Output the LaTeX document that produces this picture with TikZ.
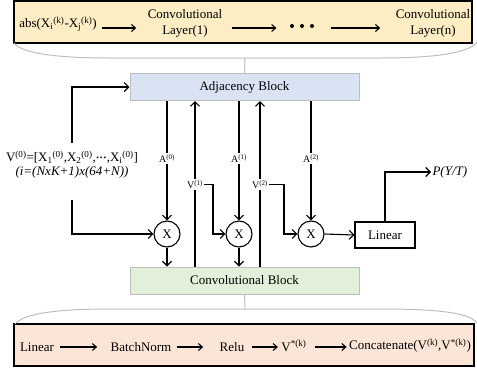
\documentclass[tikz,border=0pt]{standalone}
\usepackage{fontspec}
\setmainfont{Liberation Serif}
\usetikzlibrary{arrows.meta}
\definecolor{topfill}{RGB}{252,237,196}
\definecolor{botfill}{RGB}{251,229,214}
\definecolor{adjfill}{RGB}{218,227,243}
\definecolor{convfill}{RGB}{226,240,217}
\definecolor{frame}{RGB}{190,190,190}
\begin{document}
\begin{tikzpicture}[x=1pt,y=-1pt,
  font=\fontsize{13}{16}\selectfont,
  line width=1.1pt,
  arr/.style={-{Straight Barb[length=4.5pt,width=9pt]}},
  tarr/.style={-{Straight Barb[length=4pt,width=7pt]}},
  panel/.style={draw=black,line width=1.1pt},
  block/.style={draw=frame,line width=1pt,minimum width=229pt,minimum height=27pt,inner sep=0pt},
  txt/.style={inner sep=0pt,align=center},
  lab/.style={fill=white,inner sep=1pt,font=\fontsize{10}{12}\selectfont},
  mult/.style={draw,circle,minimum size=26pt,inner sep=0pt},
  soft/.style={draw=frame,line width=1pt}]
\useasboundingbox (0,0) rectangle (477,370);

% upper panel: the adjacency pipeline
\draw[panel,fill=topfill] (14,1) rectangle (472,43);
\node[txt] (absn) at (58,24) {abs(X\textsubscript{i}\textsuperscript{(k)}-X\textsubscript{j}\textsuperscript{(k)})};
\node[txt] (cl1) at (185,23) {Convolutional\\Layer(1)};
\node[txt] (cln) at (433,23) {Convolutional\\Layer(n)};
\coordinate (a1s) at (0,28);
% three heavy dots between the layers
\node[inner sep=0pt,minimum width=24pt,minimum height=6pt] (dots) at (302,26) {};
\foreach \dx in {-10,0,10} \fill ([xshift=\dx pt]dots.center) circle (2pt);
\draw[tarr,shorten <=5pt,shorten >=11pt] (absn.east |- a1s) -- (cl1.west |- a1s);
\draw[tarr,shorten <=9pt,shorten >=13pt] (cl1.east |- a1s) -- (dots.west |- a1s);
\draw[tarr,shorten <=16pt,shorten >=15pt] (dots.east |- a1s) -- (cln.west |- a1s);

% lower panel: the convolutional pipeline
\draw[panel,fill=botfill] (14,324) rectangle (474,366);
\node[txt] (lin2) at (37,347) {Linear};
\node[txt] (bn) at (141,347) {BatchNorm};
\node[txt] (relu) at (232,347) {Relu};
\node[txt] (vstar) at (294,346) {V\textsuperscript{*(k)}};
\node[txt] (concat) at (410,346) {Concatenate(V\textsuperscript{(k)},V\textsuperscript{*(k)})};
\draw[tarr,shorten <=5pt,shorten >=13pt] (lin2.east) -- (bn.west);
\draw[tarr,shorten <=5pt,shorten >=16pt] (bn.east) -- (relu.west);
\draw[tarr,shorten <=7pt,shorten >=3pt] (relu.east) -- (vstar.west |- relu.east);
\draw[tarr,shorten <=8pt,shorten >=2pt] (vstar.east |- relu.east) -- (concat.west |- relu.east);

% main blocks
\node[block,fill=adjfill] (adj) at (244.5,87) {Adjacency Block};
\node[block,fill=convfill] (conv) at (244.5,280.5) {Convolutional Block};

% brackets tying the panels to the blocks
\coordinate (tmid) at (245,58);
\coordinate (bmid) at (245,309);
\draw[soft] (14,43) .. controls (22,54) and (60,58) .. (110,58) -- (380,58) .. controls (440,58) and (470,52) .. (477,42);
\draw[soft] (tmid) -- (adj.north);
\draw[soft] (15,324) .. controls (24,313) and (60,309) .. (110,309) -- (380,309) .. controls (440,309) and (470,313) .. (477,323);
\draw[soft] (conv.south) -- (bmid);

% input features
\node[txt] (inp) at (72,165) {V\textsuperscript{(0)}=[X\textsubscript{1}\textsuperscript{(0)},X\textsubscript{2}\textsuperscript{(0)},{\fontsize{11}{11}\selectfont\textbf{···}},X\textsubscript{i}\textsuperscript{(0)}]\\[-2pt]\textit{(i=(NxK+1)x(64+N))}};
\coordinate (inTop) at (72,143);
\coordinate (inBot) at (72,200);

% multiplication nodes and output layer
\node[mult] (x1) at (167,234) {X};
\node[mult] (x2) at (239,234) {X};
\node[mult] (x3) at (311,234) {X};
\node[draw,minimum width=60pt,minimum height=26pt,inner sep=0pt] (lin) at (385,235) {Linear};
\node[inner sep=1pt,anchor=west] (pyt) at (431,172) {\textit{P(Y/T)}};

\draw[arr] (inTop) |- (adj.west);
\draw[arr] (inBot) |- (x1.west);

\draw[arr] (adj.south -| x1) -- node[lab,pos=0.483] {A\textsuperscript{(0)}} (x1.north);
\draw[arr] (adj.south -| x2) -- node[lab,pos=0.483] {A\textsuperscript{(1)}} (x2.north);
\draw[arr] (adj.south -| x3) -- node[lab,pos=0.483] {A\textsuperscript{(2)}} (x3.north);

\coordinate (colV1) at (195,185);
\coordinate (colV2) at (260,185);
\coordinate (brk1) at (213,200);
\coordinate (brk2) at (284,200);
\draw[arr] (conv.north -| colV1) -- node[lab,pos=0.494] (v1) {V\textsuperscript{(1)}} (adj.south -| colV1);
\draw[arr] (conv.north -| colV2) -- node[lab,pos=0.494] (v2) {V\textsuperscript{(2)}} (adj.south -| colV2);
\draw[arr] (v1.east) -| (brk1) |- (x2.west);
\draw[arr] (v2.east) -| (brk2) |- (x3.west);

\draw[arr] (x1.south) -- (conv.north -| x1);
\draw[arr] (x2.south) -- (conv.north -| x2);
\draw[arr] (x3.east) -- (lin.west);
\draw[arr] (lin.north) |- (pyt.west);
\end{tikzpicture}
\end{document}
